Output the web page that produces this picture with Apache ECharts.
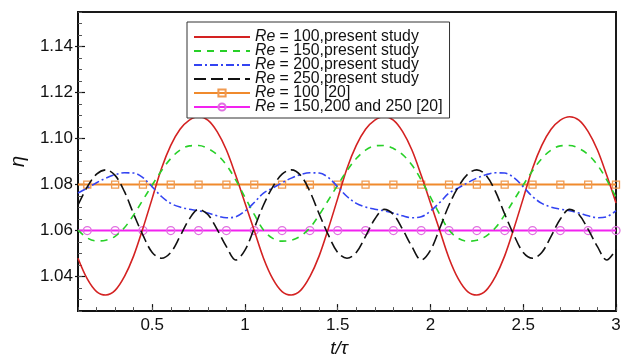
<!DOCTYPE html>
<html>
<head>
<meta charset="utf-8">
<script src="https://cdn.jsdelivr.net/npm/echarts@6/dist/echarts.min.js"></script>
<style>
  html, body { margin: 0; padding: 0; background: #fff; }
  #chart { width: 631px; height: 363px; }
</style>
</head>
<body>
<div id="chart"></div>
<script>
// Non-dimensional time t/tau
const tau = [
  0.10, 0.15, 0.20, 0.25, 0.30, 0.35, 0.40, 0.45, 0.50, 0.55,
  0.60, 0.65, 0.70, 0.75, 0.80, 0.85, 0.90, 0.95, 1.00, 1.05,
  1.10, 1.15, 1.20, 1.25, 1.30, 1.35, 1.40, 1.45, 1.50, 1.55,
  1.60, 1.65, 1.70, 1.75, 1.80, 1.85, 1.90, 1.95, 2.00, 2.05,
  2.10, 2.15, 2.20, 2.25, 2.30, 2.35, 2.40, 2.45, 2.50, 2.55,
  2.60, 2.65, 2.70, 2.75, 2.80, 2.85, 2.90, 2.95, 3.00
];

// Efficiency eta, present study
const re100 = [
  1.048, 1.039, 1.0335, 1.032, 1.034, 1.040, 1.049, 1.061, 1.074, 1.087,
  1.097, 1.104, 1.108, 1.1095, 1.108, 1.103, 1.095, 1.084, 1.072, 1.060,
  1.048, 1.039, 1.0335, 1.032, 1.034, 1.040, 1.049, 1.061, 1.074, 1.087,
  1.097, 1.104, 1.108, 1.1095, 1.108, 1.103, 1.095, 1.084, 1.072, 1.060,
  1.048, 1.039, 1.0335, 1.032, 1.034, 1.040, 1.049, 1.061, 1.074, 1.087,
  1.097, 1.104, 1.108, 1.1095, 1.108, 1.103, 1.095, 1.084, 1.072
];
const re150 = [
  1.0602, 1.0568, 1.0555, 1.0558, 1.0575, 1.0612, 1.0668, 1.0733, 1.0798, 1.0860,
  1.0913, 1.0950, 1.0968, 1.0970, 1.0957, 1.0930, 1.0885, 1.0820, 1.0745, 1.0670,
  1.0602, 1.0566, 1.0554, 1.0558, 1.0576, 1.0612, 1.0668, 1.0733, 1.0798, 1.0860,
  1.0913, 1.0950, 1.0968, 1.0970, 1.0957, 1.0930, 1.0885, 1.0820, 1.0745, 1.0670,
  1.0602, 1.0566, 1.0554, 1.0558, 1.0576, 1.0612, 1.0668, 1.0733, 1.0798, 1.0860,
  1.0913, 1.0950, 1.0968, 1.0970, 1.0957, 1.0930, 1.0885, 1.0820, 1.0745
];
const re200 = [
  1.0763, 1.0785, 1.0808, 1.0828, 1.0843, 1.0851, 1.0850, 1.0830, 1.0790, 1.0748,
  1.0718, 1.0702, 1.0693, 1.0686, 1.0676, 1.0664, 1.0656, 1.0660, 1.0685, 1.0722,
  1.0763, 1.0785, 1.0808, 1.0828, 1.0843, 1.0851, 1.0850, 1.0830, 1.0790, 1.0748,
  1.0718, 1.0702, 1.0693, 1.0686, 1.0676, 1.0664, 1.0656, 1.0660, 1.0685, 1.0722,
  1.0763, 1.0785, 1.0808, 1.0828, 1.0843, 1.0851, 1.0850, 1.0830, 1.0790, 1.0748,
  1.0718, 1.0702, 1.0693, 1.0686, 1.0676, 1.0664, 1.0656, 1.0660, 1.0687
];
const re250 = [
  1.0711, 1.0790, 1.0845, 1.0864, 1.0840, 1.0770, 1.0672, 1.0580, 1.0505, 1.0480,
  1.0505, 1.0575, 1.0650, 1.0692, 1.0670, 1.0605, 1.0530, 1.0472, 1.0515, 1.0610,
  1.0711, 1.0790, 1.0845, 1.0864, 1.0840, 1.0770, 1.0672, 1.0580, 1.0505, 1.0480,
  1.0505, 1.0575, 1.0650, 1.0692, 1.0670, 1.0605, 1.0530, 1.0472, 1.0515, 1.0610,
  1.0711, 1.0790, 1.0845, 1.0864, 1.0840, 1.0770, 1.0672, 1.0580, 1.0505, 1.0480,
  1.0505, 1.0575, 1.0650, 1.0692, 1.0670, 1.0605, 1.0530, 1.0472, 1.0518
];

// Reference values [20]
const refTau = [
  0.10, 0.15, 0.30, 0.45, 0.60, 0.75, 0.90, 1.05, 1.20, 1.35, 1.50,
  1.65, 1.80, 1.95, 2.10, 2.25, 2.40, 2.55, 2.70, 2.85, 3.00
];
const refRe100 = 1.08;
const refRe150to250 = 1.06;

// Axis ticks
const xMajorTicks = [0.5, 1, 1.5, 2, 2.5, 3];
const yMajorTicks = [1.04, 1.06, 1.08, 1.10, 1.12, 1.14];

const FONT = '"Liberation Sans", Arial, Helvetica, sans-serif';
const INK = '#111';

const pairs = (ys) => tau.map((t, i) => [t, ys[i]]);
const refPairs = (level) => refTau.map((t, i) =>
  i === 0 ? { value: [t, level], symbol: 'none' } : [t, level]);

function curve(name, ys, color, dash, width) {
  return {
    name, type: 'line', data: pairs(ys),
    xAxisIndex: 0, yAxisIndex: 0,
    smooth: 0.35, symbol: 'none', color,
    lineStyle: { color, width, type: dash },
    z: 3
  };
}
function refLine(name, level, color, markColor, shape, size) {
  return {
    name, type: 'line', data: refPairs(level),
    xAxisIndex: 0, yAxisIndex: 0,
    symbol: shape, symbolSize: size, showSymbol: true, showAllSymbol: true,
    color,
    lineStyle: { color, width: 2 },
    itemStyle: { color: 'rgba(255,255,255,0)', borderColor: markColor, borderWidth: 1.3 },
    z: 2
  };
}

const chart = echarts.init(document.getElementById('chart'), null, { renderer: 'canvas' });

const gridBox = { left: 73, right: 15, top: 12, bottom: 47 };

chart.setOption({
  animation: false,
  backgroundColor: '#fff',
  grid: Object.assign({ show: true, borderColor: '#1a1a1a', borderWidth: 2, backgroundColor: 'transparent' }, gridBox),
  legend: {
    orient: 'vertical', left: 187, top: 22,
    padding: [7, 7, 3, 6],
    itemWidth: 56, itemHeight: 9, itemGap: -2,
    backgroundColor: '#fff', borderColor: '#333', borderWidth: 1,
    textStyle: {
      fontFamily: FONT, fontSize: 15.8, color: INK, lineHeight: 14,
      rich: { i: { fontFamily: FONT, fontSize: 15.8, fontStyle: 'italic', color: INK, lineHeight: 14 } }
    },
    formatter: (n) => n.replace(/^Re/, '{i|Re}'),
    data: [
      { name: 'Re = 100,present study', itemStyle: { opacity: 0 } },
      { name: 'Re = 150,present study', itemStyle: { opacity: 0 } },
      { name: 'Re = 200,present study', itemStyle: { opacity: 0 } },
      { name: 'Re = 250,present study', itemStyle: { opacity: 0 } },
      { name: 'Re = 100 [20]' },
      { name: 'Re = 150,200 and 250 [20]' }
    ]
  },
  xAxis: [
    {
      type: 'value', min: 0.1, max: 3, position: 'bottom',
      name: 't/τ', nameLocation: 'middle', nameGap: 22,
      nameTextStyle: { fontFamily: FONT, fontSize: 19, fontStyle: 'italic', color: INK, padding: [0, 16, 0, 0] },
      axisLine: { show: true, lineStyle: { color: INK, width: 2 } },
      axisTick: { show: true, inside: true, length: 7, customValues: xMajorTicks, lineStyle: { color: INK, width: 1.2 } },
      axisLabel: { show: true, customValues: xMajorTicks, margin: 6, fontFamily: FONT, fontSize: 17, color: INK },
      splitLine: { show: false }
    },
    {
      type: 'value', min: 0.1, max: 3, interval: 0.1, position: 'bottom',
      axisLine: { show: false },
      axisTick: { show: true, inside: true, length: 4, lineStyle: { color: '#555', width: 1 } },
      axisLabel: { show: false },
      splitLine: { show: false }
    }
  ],
  yAxis: [
    {
      type: 'value', min: 1.025, max: 1.155, position: 'left',
      name: 'η', nameLocation: 'middle', nameGap: 50, nameRotate: 90,
      nameTextStyle: { fontFamily: FONT, fontSize: 20, fontStyle: 'italic', color: INK },
      axisLine: { show: true, lineStyle: { color: INK, width: 2 } },
      axisTick: { show: true, inside: true, length: 7, customValues: yMajorTicks, lineStyle: { color: INK, width: 1.2 } },
      axisLabel: { show: true, customValues: yMajorTicks, margin: 5, fontFamily: FONT, fontSize: 17, color: INK,
                   formatter: (v) => v.toFixed(2) },
      splitLine: { show: false }
    },
    {
      type: 'value', min: 1.025, max: 1.155, interval: 0.005, position: 'left',
      axisLine: { show: false },
      axisTick: { show: true, inside: true, length: 4, lineStyle: { color: '#555', width: 1 } },
      axisLabel: { show: false },
      splitLine: { show: false }
    },
    {
      type: 'value', min: 1.025, max: 1.155, position: 'left',
      axisLine: { show: false },
      axisTick: { show: true, inside: false, length: 3, customValues: yMajorTicks, lineStyle: { color: INK, width: 1.2 } },
      axisLabel: { show: false },
      splitLine: { show: false }
    }
  ],
  series: [
    curve('Re = 100,present study', re100, '#D42222', 'solid', 1.6),
    curve('Re = 150,present study', re150, '#28D028', [7, 6], 1.6),
    curve('Re = 200,present study', re200, '#3344F2', [8, 3, 2, 3], 1.6),
    curve('Re = 250,present study', re250, '#111111', [12, 5], 1.6),
    refLine('Re = 100 [20]', refRe100, '#F08A2C', '#F09A50', 'rect', 7),
    refLine('Re = 150,200 and 250 [20]', refRe150to250, '#F222F0', '#E070E0', 'circle', 8)
  ]
});
</script>
</body>
</html>
